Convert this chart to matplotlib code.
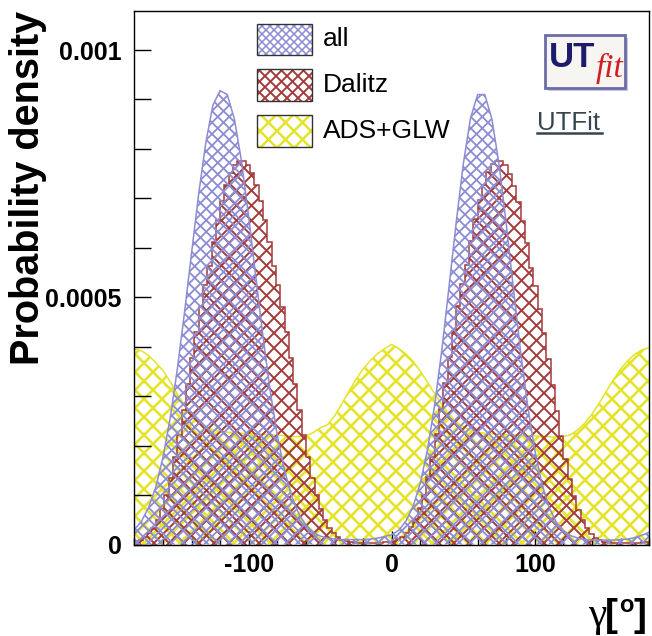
import numpy as np
import matplotlib
matplotlib.use("Agg")
import matplotlib.pyplot as plt
from matplotlib.collections import LineCollection
from matplotlib.patches import Rectangle
from matplotlib.path import Path
from matplotlib.transforms import IdentityTransform

# ---------------------------------------------------------------- data
# gamma grid (degrees) for the smooth curves
gamma_grid = np.arange(-180, 181, 5)

# combined posterior ("all"), units of 1e-4
all_density = [
    0.30, 0.47, 0.75, 1.16, 1.76, 2.54, 3.53, 4.67, 5.89, 7.09,
    8.13, 8.89, 9.18, 9.10, 8.60, 7.74, 6.62, 5.40, 4.20, 3.11,
    2.20, 1.50, 0.98, 0.62, 0.39, 0.25, 0.17, 0.13, 0.11, 0.10,
    0.10, 0.10, 0.10, 0.11, 0.13, 0.16, 0.20, 0.29, 0.48, 0.78,
    1.25, 1.93, 2.83, 3.94, 5.21, 6.51, 7.70, 8.62, 9.10, 9.10,
    8.60, 7.68, 6.48, 5.18, 3.91, 2.80, 1.90, 1.22, 0.75, 0.45,
    0.28, 0.18, 0.13, 0.10, 0.09, 0.09, 0.09, 0.09, 0.10, 0.11,
    0.14, 0.19, 0.25,
]

# ADS+GLW posterior, units of 1e-4
ads_glw_density = [
    3.95, 3.92, 3.82, 3.68, 3.52, 3.30, 3.05, 2.82, 2.62, 2.48,
    2.38, 2.32, 2.28, 2.27, 2.26, 2.25, 2.25, 2.24, 2.23, 2.22,
    2.21, 2.20, 2.19, 2.18, 2.20, 2.26, 2.36, 2.42, 2.60, 2.84,
    3.10, 3.34, 3.55, 3.72, 3.86, 3.96, 4.05, 3.96, 3.85, 3.70,
    3.50, 3.28, 3.05, 2.83, 2.64, 2.48, 2.38, 2.31, 2.27, 2.25,
    2.24, 2.23, 2.22, 2.21, 2.21, 2.20, 2.20, 2.19, 2.18, 2.17,
    2.18, 2.22, 2.32, 2.46, 2.64, 2.86, 3.10, 3.34, 3.55, 3.72,
    3.85, 3.94, 3.98,
]

# Dalitz posterior, 3-degree bins from -180 to 180, units of 1e-4
dalitz_edges = np.arange(-180, 181, 3)
dalitz_density = [
    # -180 .. 0
    0.07, 0.10, 0.15, 0.23, 0.34, 0.50, 0.72, 1.00, 1.35, 1.76,
    2.22, 2.72, 3.25, 3.78, 4.30, 4.80, 5.25, 5.63, 6.12, 6.57,
    6.95, 7.27, 7.52, 7.68, 7.75, 7.75, 7.68, 7.52, 7.27, 6.95,
    6.57, 6.12, 5.63, 5.25, 4.80, 4.30, 3.78, 3.25, 2.72, 2.22,
    1.76, 1.35, 1.00, 0.72, 0.50, 0.34, 0.23, 0.15, 0.10, 0.07,
    0.05, 0.04, 0.03, 0.03, 0.03, 0.03, 0.03, 0.04, 0.05, 0.06,
    # 0 .. 180
    0.08, 0.11, 0.16, 0.24, 0.35, 0.51, 0.73, 1.01, 1.36, 1.77,
    2.23, 2.74, 3.27, 3.80, 4.32, 4.82, 5.27, 5.66, 6.14, 6.58,
    6.96, 7.28, 7.53, 7.69, 7.76, 7.75, 7.67, 7.50, 7.25, 6.93,
    6.55, 6.10, 5.60, 5.22, 4.77, 4.27, 3.75, 3.22, 2.69, 2.19,
    1.73, 1.33, 0.98, 0.70, 0.49, 0.33, 0.22, 0.14, 0.09, 0.06,
    0.05, 0.04, 0.03, 0.03, 0.03, 0.03, 0.03, 0.04, 0.05, 0.06,
]

series_labels = ["all", "Dalitz", "ADS+GLW"]
x_ticks = [-100, 0, 100]
y_ticks = [0, 0.0005, 0.001]
y_tick_labels = ["0", "0.0005", "0.001"]

SCALE = 1e-4
all_y = np.array(all_density) * SCALE
ads_y = np.array(ads_glw_density) * SCALE
dal_y = np.array(dalitz_density) * SCALE

# ---------------------------------------------------------------- style
W, H, DPI = 652, 636, 100
C_ALL = "#8c8cd4"
C_DAL = "#a43a3a"
C_ADS = "#e4e42c"
SANS = ["Liberation Sans", "DejaVu Sans"]
SERIF = ["Liberation Serif", "DejaVu Serif"]

fig = plt.figure(figsize=(W / DPI, H / DPI), dpi=DPI)
fig.patch.set_facecolor("white")

AX_L, AX_R, AX_T, AX_B = 134.3, 649.3, 10.5, 544.5
ax = fig.add_axes([AX_L / W, 1 - AX_B / H, (AX_R - AX_L) / W, (AX_B - AX_T) / H])
ax.set_xlim(-180, 180)
ax.set_ylim(0, 0.00108)


def cross_hatch(clip, color, spacing, lw, zorder, phase=0.0, on=None):
    """Diagonal cross-hatch in device pixels, clipped to a path/patch."""
    segs = []
    for c in np.arange(-H + phase, W + H, spacing):
        segs.append([(c, 0), (c + H, H)])
        segs.append([(c, H), (c + H, 0)])
    lc = LineCollection(segs, colors=color, linewidths=lw,
                        transform=IdentityTransform(), zorder=zorder)
    if on is None:
        ax.add_collection(lc, autolim=False)
    else:
        fig.add_artist(lc)
    if isinstance(clip, tuple):
        lc.set_clip_path(*clip)
    else:
        lc.set_clip_path(clip)
    return lc


def smooth_hist(x, y, color, spacing, lw, zorder, phase=0.0):
    verts = [(x[0], 0)] + list(zip(x, y)) + [(x[-1], 0)]
    path = Path(verts + [verts[0]], closed=True)
    cross_hatch((path, ax.transData), color, spacing, lw, zorder, phase)
    ax.plot(x, y, color=color, lw=1.1, zorder=zorder + 0.1)


def step_hist(edges, y, color, spacing, lw, zorder, phase=0.0):
    xs = np.repeat(edges, 2)
    ys = np.concatenate([[0], np.repeat(y, 2), [0]])
    verts = list(zip(xs, ys))
    path = Path(verts + [verts[0]], closed=True)
    cross_hatch((path, ax.transData), color, spacing, lw, zorder, phase)
    ax.stairs(y, edges, color=color, lw=1.1, zorder=zorder + 0.1)


smooth_hist(gamma_grid, ads_y, C_ADS, 18, 1.9, 1, phase=3)
step_hist(dalitz_edges, dal_y, C_DAL, 15, 1.4, 2, phase=7)
smooth_hist(gamma_grid, all_y, C_ALL, 11.5, 1.3, 3, phase=1)

# ---------------------------------------------------------------- axes
for side in ("top", "right", "left", "bottom"):
    ax.spines[side].set_linewidth(1.0)
    ax.spines[side].set_color("black")
    ax.spines[side].set_zorder(10)

ax.set_xticks(x_ticks)
ax.set_xticklabels([str(v) for v in x_ticks])
ax.set_xticks(np.arange(-180, 181, 20), minor=True)
ax.set_yticks(y_ticks)
ax.set_yticklabels(y_tick_labels)
ax.set_yticks(np.arange(0, 0.00108, 0.0001), minor=True)
ax.tick_params(axis="x", which="major", direction="in", length=10, width=1,
               pad=6, top=False)
ax.tick_params(axis="x", which="minor", direction="in", length=5, width=1,
               top=False)
ax.tick_params(axis="y", which="major", direction="in", length=12, width=1,
               pad=9, right=False)
ax.tick_params(axis="y", which="minor", direction="in", length=12, width=1,
               right=False)
for lab in ax.get_xticklabels() + ax.get_yticklabels():
    lab.set_fontfamily(SANS)
    lab.set_fontweight("bold")
    lab.set_fontsize(18)


def fx(x):
    return x / W


def fy(y):
    return 1 - y / H


fig.text(fx(28), fy(188), "Probability density", rotation=90,
         ha="center", va="center", fontsize=28.5, fontweight="bold",
         family=SANS)

# x-axis title: gamma [deg]
fig.text(fx(606), fy(626), "\u03b3", ha="right", va="baseline",
         fontsize=30, family=SERIF)
fig.text(fx(605), fy(626), "[", ha="left", va="baseline",
         fontsize=28, fontweight="bold", family=SANS)
fig.text(fx(619), fy(612), "o", ha="left", va="baseline",
         fontsize=17, fontweight="bold", family=SANS)
fig.text(fx(634), fy(626), "]", ha="left", va="baseline",
         fontsize=28, fontweight="bold", family=SANS)

# ---------------------------------------------------------------- legend
legend_rows = [(24, C_ALL, 8, 1.1), (69.5, C_DAL, 11, 1.4), (115.5, C_ADS, 17, 1.8)]
for (top, col, sp, lw), lab in zip(legend_rows, series_labels):
    rect = Rectangle((fx(257), fy(top + 31)), 55 / W, 31 / H,
                     transform=fig.transFigure, facecolor="white",
                     edgecolor="none", zorder=20)
    fig.add_artist(rect)
    cross_hatch(rect, col, sp, lw, 21, on=fig)
    edge = Rectangle((fx(257), fy(top + 31)), 55 / W, 31 / H,
                     transform=fig.transFigure, facecolor="none",
                     edgecolor="#333333", lw=1.0, zorder=22)
    fig.add_artist(edge)
    fig.text(fx(323), fy(top + 15.5), lab, ha="left", va="center",
             fontsize=19, family=SANS, zorder=23)

# ---------------------------------------------------------------- logo
shadow = Rectangle((fx(548), fy(91)), 80 / W, 53 / H, transform=fig.transFigure,
                   facecolor="#c8c8d8", edgecolor="none", zorder=24)
fig.add_artist(shadow)
logo = Rectangle((fx(545), fy(88)), 80 / W, 53 / H, transform=fig.transFigure,
                 facecolor="#f7f5f2", edgecolor="#6c6ca6", lw=2.0, zorder=25)
fig.add_artist(logo)
fig.text(fx(549), fy(67), "UT", ha="left", va="baseline", fontsize=25,
         fontweight="bold", color="#1c1c6a", family=SANS, zorder=26)
fig.text(fx(596), fy(77), "fit", ha="left", va="baseline", fontsize=24,
         style="italic", color="#d01e24", family=SERIF, zorder=26)

fig.text(fx(537), fy(130), "UTFit", ha="left", va="baseline", fontsize=18.5,
         color="#34454f", family=SANS, zorder=26)
fig.add_artist(plt.Line2D([fx(537), fx(602)], [fy(132.5), fy(132.5)],
                          transform=fig.transFigure, color="#34454f", lw=1.8,
                          zorder=26))

fig.savefig("out.png", dpi=DPI, facecolor="white")
